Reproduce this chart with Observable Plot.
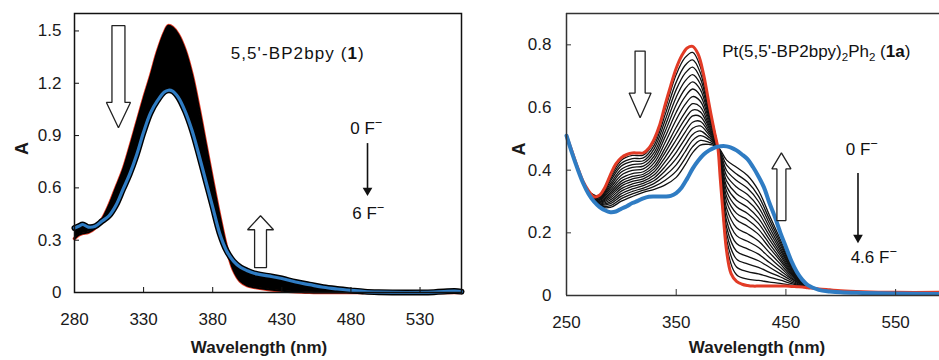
<!DOCTYPE html>
<html><head><meta charset="utf-8">
<script src="https://cdn.jsdelivr.net/npm/d3@7"></script>
<script src="https://cdn.jsdelivr.net/npm/@observablehq/plot@0.6"></script>
<style>
html,body{margin:0;padding:0;background:#fff;}
#wrap{position:relative;width:939px;height:360px;overflow:hidden;font-family:"Liberation Sans",Arial,sans-serif;}
#left{position:absolute;left:0;top:0;}
#right{position:absolute;left:470px;top:0;}
</style></head><body>
<div id="wrap"><div id="left"></div><div id="right"></div></div>
<script>
// ---------- Left panel: 5,5'-BP2bpy (1), 0 -> 6 equiv F- ----------
const L_WL   = [280,283,286,290,295,300,305,310,315,320,325,330,335,340,345,348,351,355,360,365,370,375,380,385,390,395,400,405,410,420,430,440,450,460,470,480,490,500,520,540,555,560];
const L_RED  = [0.31,0.33,0.34,0.345,0.37,0.42,0.50,0.60,0.70,0.83,0.97,1.11,1.24,1.38,1.49,1.53,1.52,1.48,1.39,1.25,1.06,0.85,0.64,0.44,0.26,0.13,0.065,0.04,0.03,0.018,0.01,0.005,0.002,0,0,0,0,0,0,0,0,0];
const L_BLUE = [0.37,0.38,0.39,0.375,0.38,0.41,0.44,0.50,0.59,0.68,0.79,0.92,1.03,1.10,1.15,1.16,1.155,1.12,1.04,0.93,0.79,0.64,0.49,0.34,0.24,0.18,0.145,0.125,0.11,0.095,0.08,0.06,0.045,0.03,0.02,0.012,0.005,0.002,0,0.002,0.008,0.005];
const L_XTICKS = [280,330,380,430,480,530];
const L_YTICKS = [0,0.3,0.6,0.9,1.2,1.5];

// ---------- Right panel: Pt(5,5'-BP2bpy)2Ph2 (1a), 0 -> 4.6 equiv F- ----------
const R_WL   = [250,255,260,265,270,275,280,285,290,295,300,305,310,315,320,325,330,335,340,345,350,355,360,365,370,375,380,385,388,390,393,396,400,405,410,415,420,425,430,435,440,445,450,455,460,465,470,480,490,500,520,550,590];
const R_RED  = [0.51,0.46,0.41,0.365,0.335,0.315,0.32,0.345,0.385,0.42,0.44,0.45,0.455,0.455,0.455,0.47,0.50,0.545,0.61,0.67,0.725,0.765,0.79,0.795,0.77,0.705,0.61,0.52,0.47,0.38,0.25,0.14,0.07,0.045,0.036,0.032,0.03,0.03,0.03,0.03,0.03,0.03,0.03,0.029,0.028,0.027,0.025,0.021,0.018,0.015,0.012,0.01,0.01];
const R_BLUE = [0.51,0.455,0.405,0.36,0.325,0.30,0.283,0.272,0.266,0.268,0.277,0.285,0.295,0.302,0.31,0.315,0.316,0.316,0.316,0.318,0.327,0.345,0.373,0.405,0.43,0.45,0.463,0.472,0.475,0.476,0.477,0.476,0.472,0.463,0.45,0.435,0.41,0.38,0.345,0.295,0.25,0.20,0.155,0.11,0.075,0.05,0.033,0.018,0.013,0.01,0.008,0.006,0.005];
// intermediate spectra (black), read on a coarser grid
const R_MID_WL = [272,280,290,300,310,320,330,340,350,358,365,372,380,388,396,405,415,425,435,445,455,465,478];
const R_MID = [
  [.327,.318,.379,.432,.447,.448,.491,.595,.705,.759,.776,.730,.603,.470,.157,.066,.052,.048,.043,.039,.033,.028,.021],
  [.326,.316,.372,.422,.437,.439,.480,.578,.681,.734,.752,.711,.594,.471,.177,.091,.076,.069,.059,.049,.038,.030,.021],
  [.326,.313,.365,.413,.428,.430,.469,.560,.657,.709,.729,.693,.585,.471,.197,.116,.101,.090,.074,.059,.043,.031,.021],
  [.325,.311,.357,.403,.418,.422,.457,.542,.633,.684,.705,.675,.576,.471,.217,.141,.125,.111,.090,.069,.048,.032,.021],
  [.325,.308,.350,.394,.409,.413,.446,.524,.609,.659,.682,.657,.567,.471,.237,.166,.149,.132,.105,.079,.053,.034,.021],
  [.325,.306,.343,.384,.399,.404,.435,.507,.585,.634,.659,.638,.559,.472,.258,.191,.173,.153,.121,.090,.057,.035,.021],
  [.324,.304,.336,.374,.389,.395,.424,.489,.561,.609,.635,.620,.550,.472,.278,.216,.197,.174,.137,.100,.062,.036,.021],
  [.324,.301,.329,.365,.380,.387,.413,.471,.537,.584,.612,.602,.541,.472,.298,.242,.221,.195,.152,.110,.067,.038,.021],
  [.323,.299,.323,.357,.372,.380,.404,.457,.517,.563,.592,.586,.534,.473,.315,.262,.242,.212,.165,.118,.071,.039,.021],
  [.323,.297,.317,.349,.364,.372,.395,.442,.497,.542,.573,.571,.526,.473,.332,.283,.262,.230,.178,.127,.075,.040,.021],
  [.323,.295,.311,.341,.356,.365,.385,.427,.477,.521,.553,.556,.519,.473,.348,.304,.282,.247,.191,.135,.079,.041,.021],
  [.322,.293,.305,.333,.348,.358,.376,.412,.457,.500,.534,.541,.512,.473,.365,.325,.302,.265,.204,.144,.083,.042,.021],
  [.322,.291,.299,.325,.340,.351,.367,.398,.437,.479,.514,.525,.504,.474,.382,.346,.322,.282,.217,.152,.087,.044,.021],
  [.322,.289,.293,.317,.332,.343,.358,.383,.417,.458,.495,.510,.497,.474,.399,.367,.342,.300,.230,.161,.091,.045,.021],
  [.321,.287,.287,.309,.324,.336,.348,.368,.397,.437,.475,.495,.489,.474,.416,.388,.362,.317,.243,.169,.095,.046,.021],
  [.321,.285,.281,.301,.316,.329,.339,.353,.377,.416,.456,.480,.482,.474,.432,.409,.383,.335,.256,.178,.100,.047,.021]
];
const R_XTICKS = [250,350,450,550];
const R_YTICKS = [0,0.2,0.4,0.6,0.8];

// ---------- annotations (data units) ----------
const L_NOTES = [
  {x: 393, y: 1.37, text: "5,5'-BP2bpy (1)"},
  {x: 479.5, y: 0.94, text: "0 F-"},
  {x: 481, y: 0.453, text: "6 F-"}
];
const R_NOTES = [
  {x: 392, y: 0.78, text: "Pt(5,5'-BP2bpy)2Ph2 (1a)"},
  {x: 504.5, y: 0.465, text: "0 F-"},
  {x: 509, y: 0.121, text: "4.6 F-"}
];
const L_HOLLOW = [
  {id: "d", x: 311.8, tail: 1.53, base: 1.09, tip: 0.945, shaft: 4.7, head: 8.7},
  {id: "u", x: 414.6, tail: 0.143, base: 0.36, tip: 0.44, shaft: 4.3, head: 9.4}
];
const R_HOLLOW = [
  {id: "d", x: 317.1, tail: 0.78, base: 0.646, tip: 0.567, shaft: 4.6, head: 10},
  {id: "u", x: 445.9, tail: 0.239, base: 0.404, tip: 0.455, shaft: 4.1, head: 8.7}
];
const L_THIN = [{x: 492, y1: 0.854, y2: 0.568}];
const R_THIN = [{x: 515.7, y1: 0.389, y2: 0.175}];

const RICH = {
  "5,5'-BP2bpy (1)": [["5,5'-BP2bpy ("], ["1", "bold"], [")"]],
  "0 F-": [["0 F"], ["\u2212", "sup"]],
  "6 F-": [["6 F"], ["\u2212", "sup"]],
  "4.6 F-": [["4.6 F"], ["\u2212", "sup"]],
  "Pt(5,5'-BP2bpy)2Ph2 (1a)": [["Pt(5,5'-BP2bpy)"], ["2", "sub"], ["Ph"], ["2", "sub"], [" ("], ["1a", "bold"], [")"]]
};

const FONT = '"Liberation Sans", Arial, sans-serif';
const RED = "#e23b26", BLUE = "#2f7cc3";
const fmt = d => d === 0 ? "0" : d.toFixed(1);

function hollowPoints(list) {
  return list.flatMap(a => [
    [a.x - a.shaft, a.tail], [a.x + a.shaft, a.tail], [a.x + a.shaft, a.base], [a.x + a.head, a.base],
    [a.x, a.tip], [a.x - a.head, a.base], [a.x - a.shaft, a.base], [a.x - a.shaft, a.tail]
  ].map(([x, y]) => ({id: a.id, x, y})));
}

function richify(svg) {
  const NS = "http://www.w3.org/2000/svg";
  svg.querySelectorAll("text").forEach(t => {
    const spec = RICH[t.textContent];
    if (!spec) return;
    t.textContent = "";
    let shift = 0;
    for (const [s, kind] of spec) {
      const ts = document.createElementNS(NS, "tspan");
      ts.textContent = s;
      let target = 0;
      if (kind === "bold") ts.setAttribute("font-weight", "bold");
      if (kind === "sub") { ts.setAttribute("font-size", "0.68em"); target = 4; }
      if (kind === "sup") { ts.setAttribute("font-size", "0.75em"); target = -7; }
      if (target !== shift) { ts.setAttribute("dy", (target - shift) + "px"); shift = target; }
      t.appendChild(ts);
    }
  });
}

// ---------- left plot ----------
const leftRows = L_WL.map((w, i) => ({w, red: L_RED[i], blue: L_BLUE[i]}));
const LW = 470, LH = 360, LML = 74, LMR = 9, LMT = 13, LMB = 68;
const left = Plot.plot({
  width: LW, height: LH, marginLeft: LML, marginRight: LMR, marginTop: LMT, marginBottom: LMB,
  style: {fontFamily: FONT, fontSize: "17px", color: "#1a1a1a", background: "transparent"},
  x: {domain: [280, 560]},
  y: {domain: [0, 1.6]},
  marks: [
    Plot.line(leftRows, {x: "w", y: "red", stroke: RED, strokeWidth: 3.6, curve: "catmull-rom"}),
    Plot.areaY(leftRows, {x: "w", y1: "red", y2: "blue", fill: "#000", curve: "catmull-rom"}),
    Plot.line(leftRows, {x: "w", y: "red", stroke: "#000", strokeWidth: 2, curve: "catmull-rom"}),
    Plot.line(leftRows, {x: "w", y: "blue", stroke: "#000", strokeWidth: 6, curve: "catmull-rom"}),
    Plot.line(leftRows, {x: "w", y: "blue", stroke: BLUE, strokeWidth: 3.2, curve: "catmull-rom"}),
    Plot.frame({stroke: "#111", strokeWidth: 1.5}),
    Plot.ruleX(L_XTICKS, {stroke: "#111", strokeWidth: 1, insetTop: (LH - LMT - LMB) - 5}),
    Plot.ruleY(L_YTICKS, {stroke: "#111", strokeWidth: 1, insetRight: (LW - LML - LMR) - 5}),
    Plot.axisX({ticks: L_XTICKS, tickSize: 0, tickPadding: 20, tickFormat: d => String(d), label: null}),
    Plot.axisY({ticks: L_YTICKS, tickSize: 0, tickPadding: 13, tickFormat: fmt, label: null}),
    Plot.text(["Wavelength (nm)"], {text: d => d, frameAnchor: "bottom", dy: 60, dx: -9, fontWeight: "bold", fontSize: 17}),
    Plot.text(["A"], {text: d => d, frameAnchor: "left", dx: -52, dy: 2, rotate: -90, fontWeight: "bold", fontSize: 18}),
    Plot.line(hollowPoints(L_HOLLOW), {x: "x", y: "y", z: "id", fill: "white", stroke: "#222", strokeWidth: 1.3, strokeLinejoin: "miter"}),
    Plot.ruleX(L_THIN, {x: "x", y1: "y1", y2: "y2", stroke: "#111", strokeWidth: 1.6}),
    Plot.dot(L_THIN, {x: "x", y: "y2", symbol: "triangle", r: 3.6, fill: "#111", stroke: null, rotate: 180, dy: -3}),
    Plot.text(L_NOTES, {x: "x", y: "y", text: "text", textAnchor: "start", fontSize: 17, fill: "#111"})
  ]
});
richify(left);
left.querySelectorAll("text").forEach(t => { if (t.textContent.startsWith("5,5'")) t.setAttribute("letter-spacing", "1.1px"); });
document.getElementById("left").appendChild(left);

// ---------- right plot ----------
const rightRows = R_WL.map((w, i) => ({w, red: R_RED[i], blue: R_BLUE[i]}));
const midRows = R_MID.flatMap((arr, k) => arr.map((v, i) => ({k, w: R_MID_WL[i], v})));
const RW = 469, RH = 360, RML = 96, RMR = 0, RMT = 13, RMB = 65;
const right = Plot.plot({
  width: RW, height: RH, marginLeft: RML, marginRight: RMR, marginTop: RMT, marginBottom: RMB,
  style: {fontFamily: FONT, fontSize: "17px", color: "#1a1a1a", background: "transparent"},
  x: {domain: [250, 590]},
  y: {domain: [0, 0.9]},
  marks: [
    Plot.line(midRows, {x: "w", y: "v", z: "k", stroke: "#111", strokeWidth: 1.3, curve: "catmull-rom"}),
    Plot.line(rightRows, {x: "w", y: "red", stroke: RED, strokeWidth: 3, curve: "catmull-rom"}),
    Plot.line(rightRows, {x: "w", y: "blue", stroke: BLUE, strokeWidth: 4, curve: "catmull-rom"}),
    Plot.ruleY([0, 0.9], {stroke: "#333", strokeWidth: 1.5}),
    Plot.ruleX([250], {stroke: "#333", strokeWidth: 1.5}),
    Plot.ruleX(R_XTICKS, {stroke: "#333", strokeWidth: 1, insetTop: (RH - RMT - RMB) - 6}),
    Plot.ruleY(R_YTICKS, {stroke: "#333", strokeWidth: 1, insetRight: (RW - RML - RMR) - 5}),
    Plot.axisX({ticks: R_XTICKS, tickSize: 0, tickPadding: 20, tickFormat: d => String(d), label: null}),
    Plot.axisY({ticks: R_YTICKS, tickSize: 0, tickPadding: 15, tickFormat: fmt, label: null}),
    Plot.text(["Wavelength (nm)"], {text: d => d, frameAnchor: "bottom", dy: 57, dx: 4, fontWeight: "bold", fontSize: 17}),
    Plot.text(["A"], {text: d => d, frameAnchor: "left", dx: -47, dy: 1, rotate: -90, fontWeight: "bold", fontSize: 18}),
    Plot.line(hollowPoints(R_HOLLOW), {x: "x", y: "y", z: "id", fill: "white", stroke: "#222", strokeWidth: 1.3, strokeLinejoin: "miter"}),
    Plot.ruleX(R_THIN, {x: "x", y1: "y1", y2: "y2", stroke: "#111", strokeWidth: 1.6}),
    Plot.dot(R_THIN, {x: "x", y: "y2", symbol: "triangle", r: 3.6, fill: "#111", stroke: null, rotate: 180, dy: -3}),
    Plot.text(R_NOTES, {x: "x", y: "y", text: "text", textAnchor: "start", fontSize: 17, fill: "#111"})
  ]
});
richify(right);
document.getElementById("right").appendChild(right);
</script>
</body></html>
